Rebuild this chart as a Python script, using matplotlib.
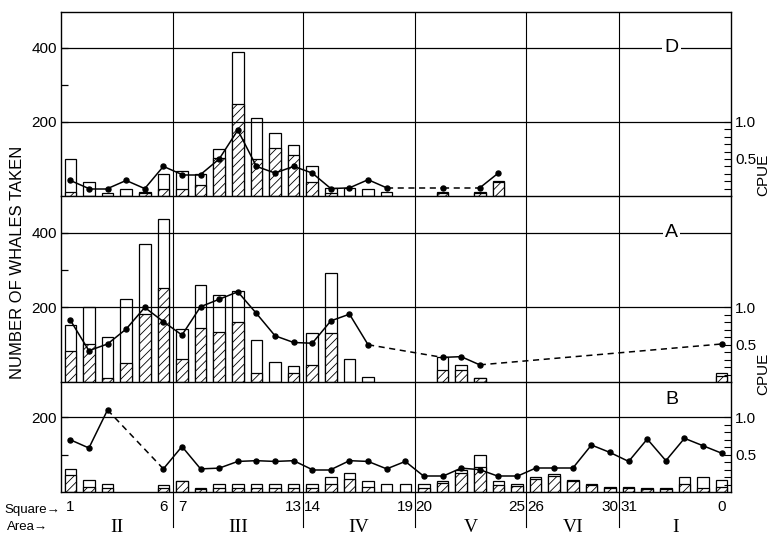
import numpy as np
import matplotlib
matplotlib.use("Agg")
from matplotlib import pyplot as plt
from matplotlib.transforms import blended_transform_factory

plt.rcParams["font.family"] = ["Liberation Sans Narrow", "Liberation Sans", "DejaVu Sans"]
plt.rcParams["hatch.linewidth"] = 0.6

square_ticks = [1, 6, 7, 13, 14, 19, 20, 25, 26, 30, 31, 36]
square_labels = ["1", "6", "7", "13", "14", "19", "20", "25", "26", "30", "31", "0"]
area_names = ["II", "III", "IV", "V", "VI", "I"]
area_edges = [0.5, 6.5, 13.5, 19.5, 25.5, 30.5, 36.5]

# D
d_squares = [1, 2, 3, 4, 5, 6, 7, 8, 9, 10, 11, 12, 13, 14, 15, 16, 17, 18, 21, 23, 24]
d_total = [100, 39, 9, 18, 10, 59, 68, 59, 128, 389, 210, 169, 139, 81, 21, 21, 20, 10, 10, 12, 40]
d_hatched = [10, 0, 0, 0, 8, 19, 19, 29, 102, 249, 99, 129, 110, 39, 9, 0, 0, 0, 8, 9, 38]
d_cpue = [0.21, 0.10, 0.10, 0.21, 0.10, 0.40, 0.29, 0.29, 0.50, 0.89, 0.40, 0.31, 0.40, 0.31,
          0.10, 0.11, 0.22, 0.11, 0.11, 0.11, 0.31]

# A
a_squares = [1, 2, 3, 4, 5, 6, 7, 8, 9, 10, 11, 12, 13, 14, 15, 16, 17, 21, 22, 23, 36]
a_total = [153, 200, 121, 222, 369, 436, 141, 260, 233, 244, 113, 54, 43, 132, 293, 63, 13, 68, 46, 12, 23]
a_hatched = [83, 101, 12, 52, 182, 251, 63, 144, 133, 162, 25, 0, 23, 46, 132, 0, 0, 32, 33, 10, 17]
a_cpue = [0.83, 0.42, 0.51, 0.71, 1.00, 0.81, 0.63, 1.01, 1.11, 1.21, 0.92, 0.62, 0.53, 0.52,
          0.82, 0.91, 0.50, 0.33, 0.34, 0.23, 0.51]

# B
b_squares = [1, 2, 3, 6, 7, 8, 9, 10, 11, 12, 13, 14, 15, 16, 17, 18, 19, 20, 21, 22, 23, 24,
             25, 26, 27, 28, 29, 30, 31, 32, 33, 34, 35, 36]
b_total = [61, 32, 21, 18, 29, 10, 21, 21, 21, 21, 21, 21, 41, 50, 30, 21, 21, 21, 29, 59, 99, 29,
           21, 41, 48, 32, 21, 13, 13, 10, 10, 41, 41, 32]
b_hatched = [46, 13, 10, 12, 29, 7, 11, 11, 11, 11, 11, 11, 21, 35, 13, 0, 0, 12, 23, 52, 66, 19,
             16, 35, 43, 30, 19, 10, 10, 8, 8, 21, 10, 13]
b_cpue = [0.70, 0.59, 1.10, 0.31, 0.61, 0.31, 0.32, 0.41, 0.42, 0.41, 0.42, 0.30, 0.30, 0.42, 0.41,
          0.31, 0.41, 0.21, 0.21, 0.32, 0.30, 0.21, 0.21, 0.32, 0.32, 0.32, 0.63, 0.53, 0.41, 0.71,
          0.42, 0.72, 0.62, 0.52]

W, H = 771, 537
fig = plt.figure(figsize=(W / 100, H / 100), dpi=100)


def panel(top, bottom, sq, total, hatched, cpue, ymax, minor, name, name_y):
    ax = fig.add_axes([61 / W, 1 - bottom / H, 670 / W, (bottom - top) / H])
    ax.bar(sq, total, width=0.62, color="white", edgecolor="black", lw=0.9, zorder=1)
    ax.bar(sq, hatched, width=0.62, color="white", edgecolor="black", hatch="////", lw=0.9, zorder=1)
    ax.set_xlim(0.5, 36.5)
    ax.set_ylim(0, ymax)
    ticks = [t for t in [200, 400] if t < ymax]
    ax.set_yticks(ticks)
    ax.set_yticklabels([str(t) for t in ticks], fontsize=11)
    ax.set_yticks(minor, minor=True)
    ax.tick_params(axis="y", which="both", direction="in", length=5, width=0.9, pad=3)
    for t in ticks:
        ax.axhline(t, color="black", lw=0.9, zorder=2)
    for e in area_edges[1:-1]:
        ax.axvline(e, color="black", lw=0.8, zorder=2)
    ax.text(33.3, name_y, name, ha="center", va="center", fontsize=14,
            family=["Liberation Sans", "DejaVu Sans"],
            bbox=dict(facecolor="white", edgecolor="none", pad=1.5), zorder=4)
    for s in ax.spines.values():
        s.set_linewidth(1.0)

    ax2 = ax.twinx()
    ax2.set_ylim(0, ymax / 200)
    ax2.set_yticks([0.5, 1.0])
    ax2.set_yticklabels(["0.5", "1.0"], fontsize=11)
    ax2.set_yticks(np.arange(0.1, 1.0, 0.1), minor=True)
    ax2.tick_params(axis="y", which="both", direction="in", length=5, width=0.8, pad=3)
    for i in range(len(sq) - 1):
        ls = "-" if sq[i + 1] - sq[i] == 1 else (0, (4, 3))
        ax2.plot([sq[i], sq[i + 1]], [cpue[i], cpue[i + 1]], linestyle=ls, color="black", lw=1.1)
    ax2.plot(sq, cpue, "o", color="black", ms=3.6)
    for s in ax2.spines.values():
        s.set_visible(False)
    return ax


ax_d = panel(12, 196, d_squares, d_total, d_hatched, d_cpue, 497, [300], "D", 400)
ax_a = panel(196, 382, a_squares, a_total, a_hatched, a_cpue, 499, [300], "A", 400)
ax_b = panel(382, 492, b_squares, b_total, b_hatched, b_cpue, 295, [100], "B", 247)

for ax in [ax_d, ax_a]:
    ax.set_xticks([])
    ax.spines["bottom"].set_visible(False)

ax_b.set_xticks(square_ticks)
ax_b.set_xticklabels(square_labels, fontsize=11)
ax_b.tick_params(axis="x", length=0, pad=6)
for e in area_edges[1:-1]:
    ax_b.axvline(e, ymin=-0.32, ymax=0, color="black", lw=0.8, clip_on=False)

tr = blended_transform_factory(ax_b.transData, ax_b.transAxes)
ax_b.text(0.45, -0.165, "Square\u2192", transform=tr, ha="right", va="center", fontsize=9.5)
ax_b.text(-0.2, -0.32, "Area\u2192", transform=tr, ha="right", va="center", fontsize=9.5)
for i, name in enumerate(area_names):
    c = (area_edges[i] + area_edges[i + 1]) / 2
    ax_b.text(c, -0.32, name, transform=tr, ha="center", va="center", fontsize=14,
              family=["Liberation Serif", "DejaVu Serif"])

fig.text(18 / W, 1 - 262 / H, "NUMBER OF WHALES TAKEN", rotation=90, ha="center", va="center",
         fontsize=12)
fig.text(763 / W, 1 - 175 / H, "CPUE", rotation=90, ha="center", va="center", fontsize=11)
fig.text(763 / W, 1 - 374 / H, "CPUE", rotation=90, ha="center", va="center", fontsize=11)

fig.savefig("out.png", dpi=100)
